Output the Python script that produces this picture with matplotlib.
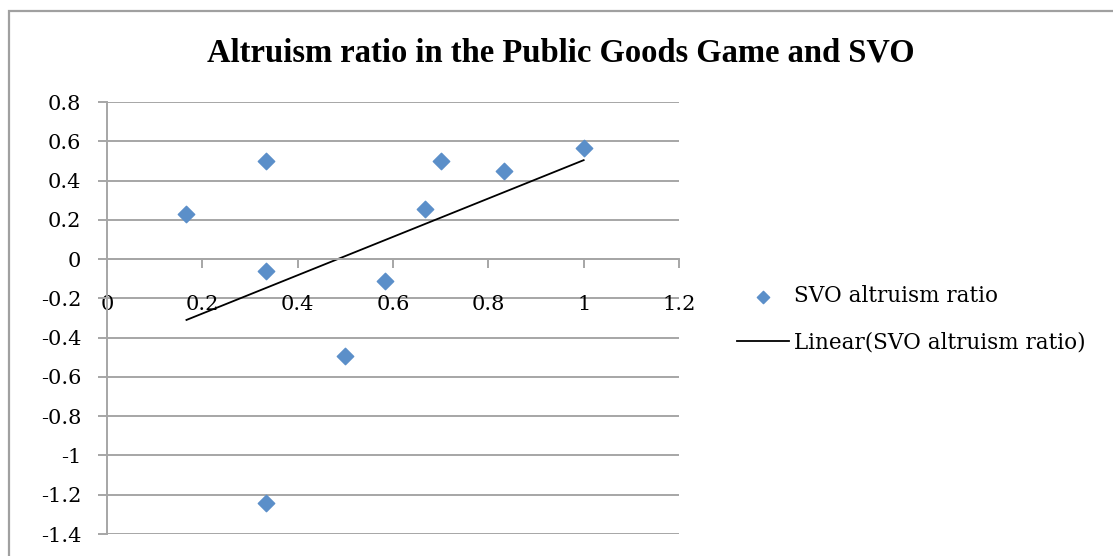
import matplotlib
matplotlib.use("Agg")
import matplotlib.pyplot as plt
import numpy as np
from matplotlib.patches import Rectangle

# public goods game share vs SVO altruism ratio
pgg_ratio = [0.1667, 0.3333, 0.3333, 0.3333, 0.5, 0.5833, 0.6667, 0.7, 0.8333, 1.0]
svo_ratio = [0.23, 0.50, -0.06, -1.24, -0.495, -0.11, 0.255, 0.50, 0.45, 0.565]
x_ticks = [0, 0.2, 0.4, 0.6, 0.8, 1, 1.2]
y_ticks = [0.8, 0.6, 0.4, 0.2, 0, -0.2, -0.4, -0.6, -0.8, -1, -1.2, -1.4]

W, H = 1113, 556
grey = '#a6a6a6'
blue = '#5b8fc9'
plt.rcParams['font.family'] = ['DejaVu Serif']

fig = plt.figure(figsize=(W / 100, H / 100), dpi=100)
# outer chart frame (only top and left edges show)
fig.patches.append(Rectangle((9 / W, -0.1), 1.2, (H - 11) / H + 0.1, transform=fig.transFigure,
                             fill=False, edgecolor='#a0a0a0', linewidth=1.6))

ax = fig.add_axes([107 / W, (H - 534) / H, (679 - 107) / W, (534 - 102) / H])
ax.set_xlim(0, 1.2)
ax.set_ylim(-1.4, 0.8)

for y in y_ticks:
    ax.axhline(y, color=grey, linewidth=1.4, zorder=1)

ax.spines['top'].set_visible(False)
ax.spines['right'].set_visible(False)
ax.spines['left'].set_color(grey)
ax.spines['left'].set_linewidth(1.4)
ax.spines['bottom'].set_position(('data', 0))
ax.spines['bottom'].set_color(grey)
ax.spines['bottom'].set_linewidth(1.4)

ax.set_xticks(x_ticks)
ax.set_xticklabels([f'{v:g}' for v in x_ticks])
ax.set_yticks(y_ticks)
ax.set_yticklabels([f'{v:g}' for v in y_ticks])
ax.tick_params(axis='x', direction='out', length=6.5, width=1.4, color=grey, pad=19.5, labelsize=15)
ax.tick_params(axis='y', direction='out', length=6.5, width=1.4, color=grey, pad=12, labelsize=15)

ax.scatter(pgg_ratio, svo_ratio, marker='D', s=70, color=blue, zorder=3,
           label='SVO altruism ratio')

slope, icept = np.polyfit(pgg_ratio, svo_ratio, 1)
fit_x = np.array([min(pgg_ratio), max(pgg_ratio)])
ax.plot(fit_x, slope * fit_x + icept, color='black', linewidth=1.3, zorder=2,
        label='Linear(SVO altruism ratio)')

ax.legend(loc='upper left', bbox_to_anchor=(718 / W, (H - 266) / H), bbox_transform=fig.transFigure,
          frameon=False, fontsize=15.5, handlelength=2.42, handletextpad=0.2, labelspacing=1.1,
          scatterpoints=1, markerscale=0.75)

fig.text(561 / W, (H - 53) / H, 'Altruism ratio in the Public Goods Game and SVO',
         ha='center', va='center', fontsize=23.5, fontweight='bold', family='Liberation Serif')

fig.savefig('out.png', dpi=100)
